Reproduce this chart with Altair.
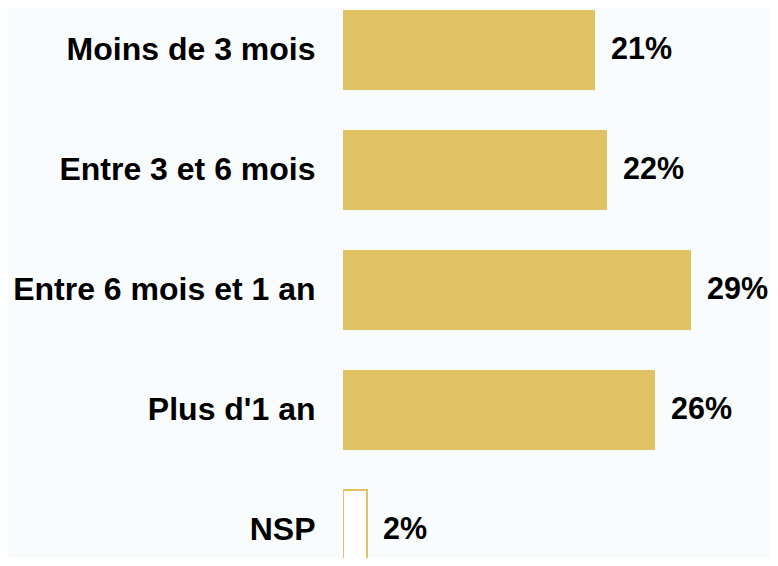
import altair as alt
import pandas as pd

categories = ["Moins de 3 mois", "Entre 3 et 6 mois", "Entre 6 mois et 1 an", "Plus d'1 an", "NSP"]
values = [21, 22, 29, 26, 2]
labels = ["21%", "22%", "29%", "26%", "2%"]

df = pd.DataFrame({"cat": categories, "val": values, "lab": labels})

GOLD = "#E0C265"
BG = "#F9FCFD"
FONT = "Liberation Sans"

y_enc = alt.Y(
    "cat:N",
    sort=categories,
    scale=alt.Scale(range=[0, 560], paddingInner=1 / 3, paddingOuter=0),
    axis=alt.Axis(
        title=None, domain=False, ticks=False, labelPadding=28, labelLimit=500,
        labelFont=FONT, labelFontSize=32, labelFontWeight="bold", labelColor="black",
    ),
)
x_enc = alt.X("val:Q", scale=alt.Scale(domain=[0, 427 / 12]), axis=None)

is_nsp = alt.datum.cat == "NSP"

bars = alt.Chart(df).mark_bar(clip=True, stroke=GOLD).encode(
    y=y_enc,
    x=x_enc,
    fill=alt.condition(is_nsp, alt.value("white"), alt.value(GOLD)),
    strokeWidth=alt.condition(is_nsp, alt.value(2), alt.value(0)),
)

text = alt.Chart(df).mark_text(
    align="left", baseline="middle", dx=16, font=FONT, fontSize=30.5, fontWeight="bold", color="black"
).encode(y=y_enc, x=x_enc, text="lab:N")

chart = (bars + text).properties(
    width=427, height=548,
    autosize=alt.AutoSizeParams(type="none"),
    padding={"left": 335, "top": 2, "right": 0, "bottom": 0},
    background=BG,
).configure_view(stroke=None)

chart.save("out.html", embed_options={"renderer": "svg", "actions": False})
